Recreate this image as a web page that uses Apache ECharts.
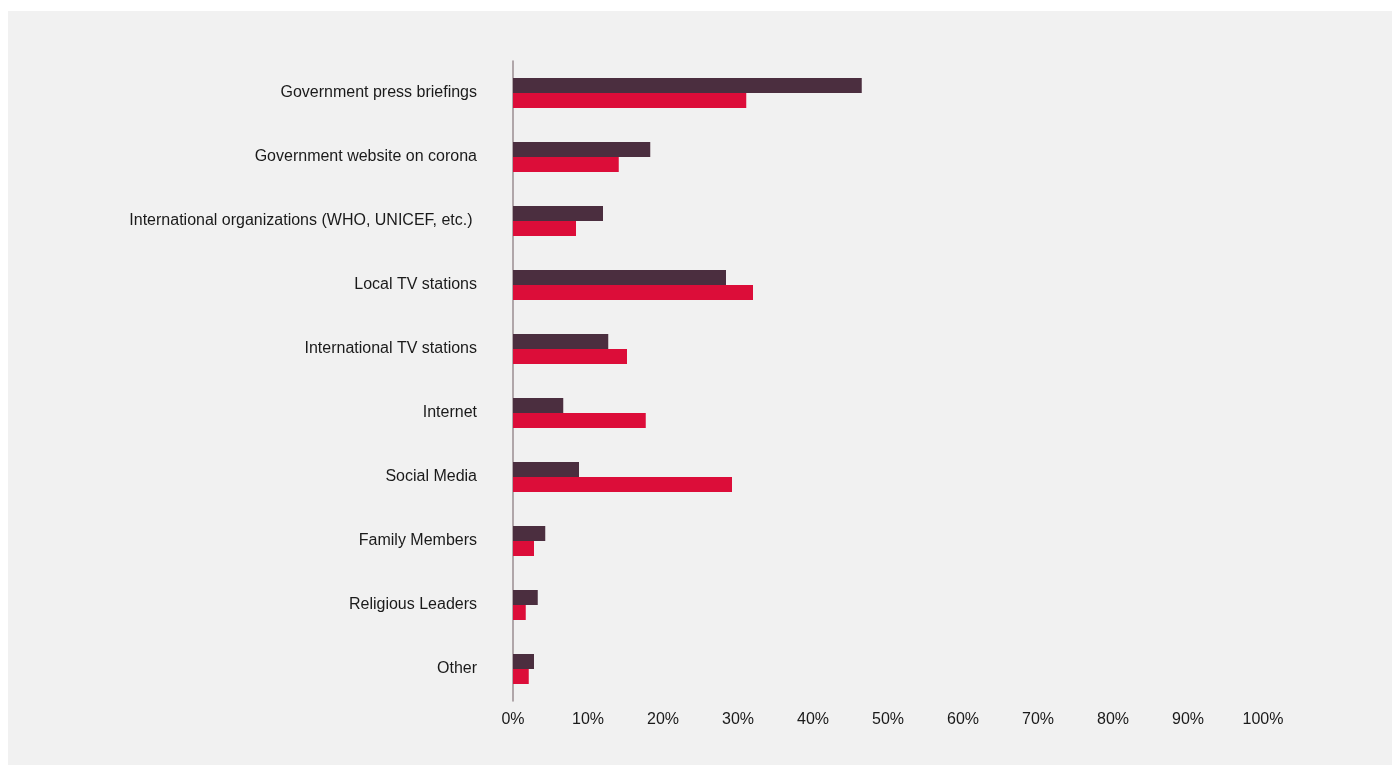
<!DOCTYPE html>
<html><head><meta charset="utf-8">
<script src="https://cdn.jsdelivr.net/npm/echarts@6/dist/echarts.min.js"></script>
<style>
html,body{margin:0;padding:0;background:#ffffff;}
#panel{position:absolute;left:8px;top:11px;width:1384px;height:754px;background:#f1f1f1;}
#chart{width:1384px;height:754px;}
</style></head>
<body>
<div id="panel"><div id="chart"></div></div>
<script>
const categories = [
  "Government press briefings",
  "Government website on corona",
  "International organizations (WHO, UNICEF, etc.) ",
  "Local TV stations",
  "International TV stations",
  "Internet",
  "Social Media",
  "Family Members",
  "Religious Leaders",
  "Other"
];
const seriesDark = [46.5, 18.3, 12.0, 28.4, 12.7, 6.7, 8.8, 4.3, 3.3, 2.8];
const seriesRed  = [31.1, 14.1, 8.4, 32.0, 15.2, 17.7, 29.2, 2.8, 1.7, 2.1];
const xTicks = [0, 10, 20, 30, 40, 50, 60, 70, 80, 90, 100];

const FONT = 'Liberation Sans';
const chart = echarts.init(document.getElementById('chart'), null, {renderer: 'canvas'});
chart.setOption({
  backgroundColor: 'transparent',
  animation: false,
  textStyle: {fontFamily: FONT},
  grid: {left: 505, right: 129, top: 50, height: 640, containLabel: false},
  xAxis: {
    type: 'value', min: xTicks[0], max: xTicks[xTicks.length - 1], interval: 10,
    axisLine: {show: false}, axisTick: {show: false}, splitLine: {show: false},
    axisLabel: {formatter: '{value}%', color: '#1a1a1a', fontSize: 16, margin: 11, fontFamily: FONT}
  },
  yAxis: {
    type: 'category', data: categories, inverse: true,
    axisLine: {show: true, lineStyle: {color: '#9a8c91', width: 1.5}},
    axisTick: {show: false},
    axisLabel: {color: '#1a1a1a', fontSize: 16, margin: 36, padding: [0, 0, 6, 0], fontFamily: FONT}
  },
  series: [
    {type: 'bar', data: seriesDark, barWidth: 15, barGap: '0%', itemStyle: {color: '#4b2e3f'}},
    {type: 'bar', data: seriesRed, barWidth: 15, barGap: '0%', itemStyle: {color: '#dc0d39'}}
  ]
});
</script>
</body></html>
